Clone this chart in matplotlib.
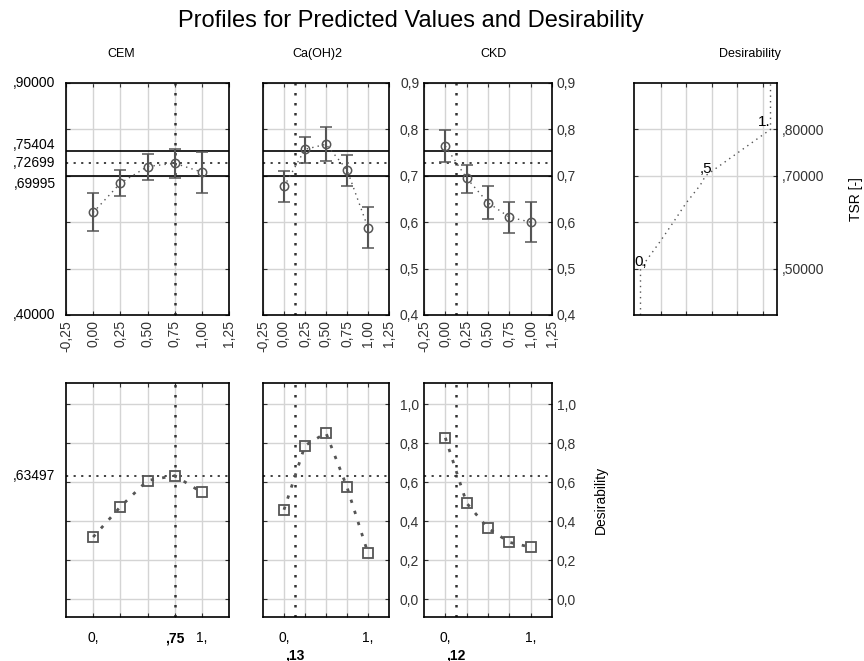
import matplotlib
matplotlib.use("Agg")
import matplotlib.pyplot as plt
import numpy as np

plt.rcParams['font.family'] = ['Liberation Sans', 'DejaVu Sans']

# factor levels
levels = [0.0, 0.25, 0.5, 0.75, 1.0]
factors = ['CEM', 'Ca(OH)2', 'CKD']
current = [0.75, 0.13, 0.12]
current_lbl = [',75', ',13', ',12']

# predicted TSR with confidence limits
tsr_mean = [[0.621, 0.684, 0.720, 0.727, 0.708],
            [0.677, 0.757, 0.768, 0.713, 0.588],
            [0.764, 0.695, 0.642, 0.611, 0.600]]
tsr_hi = [[0.662, 0.713, 0.748, 0.757, 0.752],
          [0.711, 0.784, 0.805, 0.745, 0.633],
          [0.799, 0.723, 0.677, 0.643, 0.643]]
tsr_lo = [[0.581, 0.656, 0.692, 0.695, 0.662],
          [0.643, 0.727, 0.732, 0.679, 0.544],
          [0.730, 0.662, 0.606, 0.577, 0.558]]
tsr_pred = 0.72699
tsr_ci = [0.69995, 0.75404]

# desirability per level
des = [[0.32, 0.475, 0.61, 0.635, 0.549],
       [0.46, 0.789, 0.854, 0.576, 0.237],
       [0.829, 0.494, 0.365, 0.293, 0.268]]
des_now = 0.63497

# desirability function of TSR
dfun_d = [0.0, 0.0, 0.15, 0.26, 0.35, 0.46, 0.5, 0.75, 1.0, 1.0]
dfun_tsr = [0.40, 0.50, 0.558, 0.603, 0.641, 0.68, 0.70, 0.75, 0.80, 0.90]
dfun_marks = [(0.0, 0.5, '0,'), (0.5, 0.7, ',5'), (1.0, 0.8, '1.')]

W, H = 864, 661
fig = plt.figure(figsize=(W / 100, H / 100), dpi=100)


def rect(x0, y0, x1, y1):
    return [x0 / W, 1 - y1 / H, (x1 - x0) / W, (y1 - y0) / H]


cols = [(66, 229), (263, 389), (424, 552)]
title_x = [0.34, 0.43, 0.54]
grey = '#555555'
gridc = '#d4d4d4'
fs = 10


def style(ax):
    ax.grid(True, color=gridc, lw=1)
    ax.set_axisbelow(True)
    ax.tick_params(direction='in', length=3, left=True, right=True, top=True,
                   bottom=True, labelsize=fs, colors='#333333')
    for s in ax.spines.values():
        s.set_linewidth(1.2)


def left_label(ax, y, lab, **kw):
    ax.annotate(lab, xy=(0, y), xycoords=ax.get_yaxis_transform(),
                xytext=(-7.5, 0), textcoords='offset points',
                ha='right', va='center', fontsize=fs, **kw)


xt_lbl = ['-0,25', '0,00', '0,25', '0,50', '0,75', '1,00', '1,25']

for i, (x0, x1) in enumerate(cols):
    # top row: TSR profile
    ax = fig.add_axes(rect(x0, 83, x1, 315))
    style(ax)
    ax.set_xlim(-0.25, 1.25)
    ax.set_ylim(0.4, 0.9)
    ax.set_xticks(np.arange(-0.25, 1.26, 0.25))
    ax.set_xticklabels(xt_lbl, rotation=90)
    ax.set_yticks(np.arange(0.4, 0.91, 0.1))
    ax.set_yticklabels([])
    for y in tsr_ci:
        ax.axhline(y, color='black', lw=1.2)
    ax.axhline(tsr_pred, color='#333333', lw=1.3, ls=(0, (1.2, 3)))
    ax.axvline(current[i], color='#333333', lw=1.8, ls=(0, (1, 3)))
    m = np.array(tsr_mean[i])
    err = [m - np.array(tsr_lo[i]), np.array(tsr_hi[i]) - m]
    ax.plot(levels, m, color=grey, lw=1, ls=(0, (1, 3)))
    ax.errorbar(levels, m, yerr=err, fmt='o', mfc='none', mec=grey, ms=6,
                mew=1.1, color=grey, ecolor=grey, elinewidth=1.5, capsize=4,
                capthick=1.2)
    ax.set_title(factors[i], fontsize=9, pad=19, x=title_x[i])
    if i == 0:
        left_label(ax, 0.9, ',90000')
        left_label(ax, 0.4, ',40000')
        for y, dy, lab in [(0.75404, 0.012, ',75404'), (0.72699, 0.0, ',72699'),
                           (0.69995, -0.018, ',69995')]:
            left_label(ax, y + dy, lab)
    if i == 2:
        ax.yaxis.set_tick_params(labelright=True)
        ax.set_yticklabels(['0,4', '0,5', '0,6', '0,7', '0,8', '0,9'])

    # bottom row: desirability profile
    bx = fig.add_axes(rect(x0, 383, x1, 617))
    style(bx)
    bx.set_xlim(-0.25, 1.25)
    bx.set_ylim(-0.09, 1.11)
    bx.set_xticks(levels)
    bx.set_xticklabels([])
    bx.set_yticks(np.arange(0, 1.01, 0.2))
    bx.set_yticklabels([])
    bx.axhline(des_now, color='#333333', lw=1.3, ls=(0, (1.2, 3)))
    bx.axvline(current[i], color='#333333', lw=1.8, ls=(0, (1, 3)))
    bx.plot(levels, des[i], color=grey, lw=2, ls=(0, (1.2, 3)))
    bx.plot(levels, des[i], 's', mfc='none', mec=grey, ms=6.5, mew=1.3)
    tr = bx.get_xaxis_transform()
    bx.text(0, -0.06, '0,', transform=tr, ha='center', va='top', fontsize=fs)
    bx.text(1, -0.06, '1,', transform=tr, ha='center', va='top', fontsize=fs)
    if i == 0:
        bx.text(current[i], -0.06, current_lbl[i], transform=tr, ha='center',
                va='top', fontsize=fs, fontweight='bold')
        left_label(bx, des_now, ',63497')
    else:
        bx.text(current[i], -0.135, current_lbl[i], transform=tr, ha='center',
                va='top', fontsize=fs, fontweight='bold')
    if i == 2:
        bx.yaxis.set_tick_params(labelright=True)
        bx.set_yticklabels(['0,0', '0,2', '0,4', '0,6', '0,8', '1,0'])
        bx.set_ylabel('Desirability', fontsize=fs)
        bx.yaxis.set_label_position('right')
        bx.yaxis.labelpad = 13

# desirability function panel
dx = fig.add_axes(rect(634, 83, 777, 315))
style(dx)
dx.set_xlim(-0.05, 1.05)
dx.set_ylim(0.4, 0.9)
dx.set_xticks([0.155, 0.35, 0.55, 0.745, 0.94])
dx.set_xticklabels([])
dx.set_yticks([0.5, 0.6, 0.7, 0.8])
dx.yaxis.set_tick_params(labelleft=False, labelright=True)
dx.set_yticklabels([',50000', '', ',70000', ',80000'])
dx.plot(dfun_d, dfun_tsr, color=grey, lw=1, ls=(0, (1, 3)))
for xd, yd, lab in dfun_marks:
    dx.text(xd, yd, lab, ha='right' if xd > 0.9 else 'center', va='bottom',
            fontsize=fs + 1)
dx.set_ylabel('TSR [-]', fontsize=fs)
dx.yaxis.set_label_position('right')
dx.yaxis.labelpad = 18
dx.set_title('Desirability', fontsize=9, pad=19, x=0.81)

fig.suptitle('Profiles for Predicted Values and Desirability', fontsize=17,
             x=0.476, y=0.985)

fig.savefig('out.png', dpi=100)
